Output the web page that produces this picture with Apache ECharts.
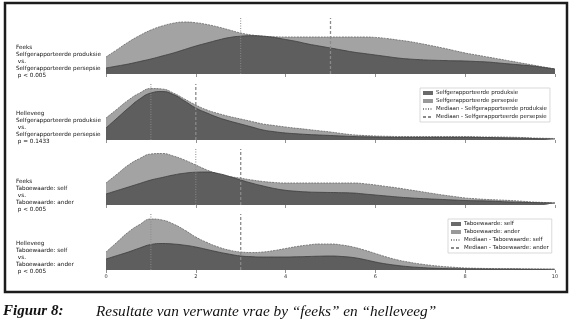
<!DOCTYPE html>
<html>
<head>
<meta charset="utf-8">
<script src="https://cdn.jsdelivr.net/npm/echarts@6/dist/echarts.min.js"></script>
<style>
html,body{margin:0;padding:0;background:#fff;}
#chart{width:572px;height:325px;}
</style>
</head>
<body>
<div id="chart"></div>
<script>
// x grid (score values)
const xs = [0,0.25,0.5,0.75,1,1.25,1.5,1.75,2,2.25,2.5,2.75,3,3.25,3.5,3.75,4,4.25,4.5,4.75,5,
            5.25,5.5,5.75,6,6.25,6.5,6.75,7,7.25,7.5,7.75,8,8.25,8.5,8.75,9,9.25,9.5,9.75,10];
const xTicks = [0,2,4,6,8,10];

// Panel 1: Feeks - produksie vs persepsie (density estimates)
const p1Produksie = [.06,.08,.10,.125,.15,.18,.21,.245,.28,.31,.34,.365,.378,.383,.378,.365,.345,.325,.30,.28,.26,
                     .24,.22,.205,.19,.175,.16,.15,.143,.138,.135,.132,.13,.125,.12,.11,.10,.09,.08,.065,.05];
const p1Persepsie = [.17,.245,.32,.385,.44,.48,.508,.52,.513,.495,.47,.44,.41,.39,.378,.372,.37,.37,.37,.37,.37,
                     .37,.37,.37,.366,.355,.34,.325,.305,.283,.26,.235,.21,.19,.17,.15,.13,.11,.09,.07,.05];
// Panel 2: Helleveeg - produksie vs persepsie
const p2Produksie = [.12,.22,.32,.41,.47,.485,.455,.39,.32,.27,.225,.19,.16,.13,.10,.083,.07,.062,.055,.05,.045,
                     .04,.035,.032,.03,.027,.025,.025,.025,.025,.025,.025,.025,.025,.025,.022,.02,.018,.015,.012,.01];
const p2Persepsie = [.22,.31,.40,.47,.515,.51,.47,.41,.35,.30,.265,.235,.21,.185,.16,.145,.13,.117,.105,.092,.08,
                     .065,.052,.045,.04,.037,.035,.035,.035,.035,.035,.035,.035,.033,.03,.03,.028,.025,.02,.017,.015];
// Panel 3: Feeks - taboewaarde self vs ander
const p3Self  = [.11,.145,.18,.215,.25,.275,.30,.318,.328,.33,.315,.285,.25,.218,.19,.165,.147,.137,.13,.127,.125,
                 .123,.12,.11,.10,.09,.08,.072,.065,.06,.055,.05,.045,.042,.04,.035,.03,.027,.025,.022,.02];
const p3Ander = [.22,.31,.40,.465,.51,.515,.49,.45,.40,.35,.31,.285,.268,.25,.235,.225,.22,.22,.22,.22,.22,
                 .22,.22,.213,.20,.185,.17,.152,.135,.117,.10,.085,.07,.062,.055,.05,.045,.038,.03,.025,.02];
// Panel 4: Helleveeg - taboewaarde self vs ander
const p4Self  = [.11,.145,.18,.22,.255,.265,.26,.248,.23,.205,.18,.158,.14,.133,.13,.13,.13,.132,.135,.138,.14,
                 .135,.125,.105,.08,.06,.045,.033,.025,.019,.015,.013,.012,.011,.01,.01,.01,.009,.008,.0075,.007];
const p4Ander = [.18,.28,.38,.455,.51,.50,.46,.40,.33,.275,.23,.198,.18,.175,.18,.195,.215,.235,.25,.26,.26,
                 .25,.23,.20,.165,.13,.10,.078,.06,.046,.035,.027,.02,.017,.015,.013,.012,.011,.01,.009,.008];

// Medians [first distribution, second distribution]
const medians = [[3,5],[1,2],[2,3],[1,3]];

const panelLabels = [
  'Feeks\nSelfgerapporteerde produksie\n vs.\nSelfgerapporteerde persepsie\n p < 0.005',
  'Helleveeg\nSelfgerapporteerde produksie\n vs.\nSelfgerapporteerde persepsie\n p = 0.1433',
  'Feeks\nTaboewaarde: self\n vs.\nTaboewaarde: ander\n p < 0.005',
  'Helleveeg\nTaboewaarde: self\n vs.\nTaboewaarde: ander\n p < 0.005'
];
const namesA = ['Selfgerapporteerde produksie','Selfgerapporteerde persepsie','Mediaan - Selfgerapporteerde produksie','Mediaan - Selfgerapporteerde persepsie'];
const namesB = ['Taboewaarde: self','Taboewaarde: ander','Mediaan - Taboewaarde: self','Mediaan - Taboewaarde: ander'];
const captionLabel = 'Figuur 8:';
const captionText = 'Resultate van verwante vrae by \u201cfeeks\u201d en \u201chelleveeg\u201d';

const panels = [
  {first:p1Produksie, second:p1Persepsie, names:namesA},
  {first:p2Produksie, second:p2Persepsie, names:namesA},
  {first:p3Self, second:p3Ander, names:namesB},
  {first:p4Self, second:p4Ander, names:namesB}
];

const YMAX = 0.56;
const baselines = [74,140,205,270];
const gridH = 56;
const offsets = [10,1,1,1];
const labelTops = [44.5,110.5,178.5,240.5];

const DARK = '#5e5e5e', LIGHT = '#a3a3a3';
const FONT = 'DejaVu Sans';

const grids = [], xAxes = [], yAxes = [], series = [], titles = [];
const zip = (arr) => arr.map((v,i)=>[xs[i], v]);

panels.forEach((p, i) => {
  grids.push({left:106, right:17, top: baselines[i]-gridH, height: gridH});
  xAxes.push({
    type:'value', gridIndex:i, min:0, max:10, interval:2, offset: offsets[i],
    axisLine:{show:false},
    axisTick:{show:true, length:3, lineStyle:{color:'#777', width:0.8}},
    axisLabel:{show: i===3, fontSize:5, color:'#333', margin:3, fontFamily:FONT},
    splitLine:{show:false}
  });
  yAxes.push({type:'value', gridIndex:i, min:0, max:YMAX, show:false});
  series.push({
    type:'line', name:p.names[1], xAxisIndex:i, yAxisIndex:i, data:zip(p.second),
    smooth:0.5, symbol:'none', showSymbol:false,
    lineStyle:{color:'#666', width:0.8, type:[2,1]},
    itemStyle:{color:'#999'},
    areaStyle:{color:LIGHT, opacity:1}, z:2, animation:false
  });
  series.push({
    type:'line', name:p.names[0], xAxisIndex:i, yAxisIndex:i, data:zip(p.first),
    smooth:0.5, symbol:'none', showSymbol:false,
    lineStyle:{color:'#3d3d3d', width:0.8},
    itemStyle:{color:'#6a6a6a'},
    areaStyle:{color:DARK, opacity:1}, z:3, animation:false
  });
  series.push({
    type:'line', name:p.names[2], xAxisIndex:i, yAxisIndex:i,
    data:[[medians[i][0],0],[medians[i][0],YMAX]],
    symbol:'none', showSymbol:false,
    lineStyle:{color:'#8a8a8a', width:1, type:[1,1.5]},
    itemStyle:{color:'#8a8a8a'}, z:4, animation:false
  });
  series.push({
    type:'line', name:p.names[3], xAxisIndex:i, yAxisIndex:i,
    data:[[medians[i][1],0],[medians[i][1],YMAX]],
    symbol:'none', showSymbol:false,
    lineStyle:{color:'#8a8a8a', width:1.3, type:[3,2]},
    itemStyle:{color:'#8a8a8a'}, z:4, animation:false
  });
  titles.push({
    text: panelLabels[i], left:16, top:labelTops[i], padding:0,
    textStyle:{fontSize:5.7, lineHeight:7, fontWeight:'normal', color:'#111', fontFamily:FONT}
  });
});

titles.push({text:captionLabel, left:3, top:304, padding:0,
  textStyle:{fontSize:15, fontWeight:'bold', fontStyle:'italic', color:'#111', fontFamily:'Liberation Serif'}});
titles.push({text:captionText, left:96, top:304, padding:0,
  textStyle:{fontSize:15.3, fontWeight:'normal', fontStyle:'italic', color:'#111', fontFamily:'Liberation Serif'}});

const legendCommon = {
  orient:'vertical', itemWidth:10, itemHeight:4, itemGap:2,
  padding:[2,3,2,2], borderColor:'#cfcfcf', borderWidth:0.8, backgroundColor:'#fff',
  textStyle:{fontSize:5.5, color:'#222', fontFamily:FONT, lineHeight:6, padding:[0,0,0,-2]},
  selectedMode:false
};
const hideSym = {opacity:0};
const legends = [
  Object.assign({}, legendCommon, {left:420, top:88,
    data:[{name:namesA[0], icon:'rect'},{name:namesA[1], icon:'rect'},
          {name:namesA[2], itemStyle:hideSym},{name:namesA[3], itemStyle:hideSym}]}),
  Object.assign({}, legendCommon, {left:448, top:219,
    data:[{name:namesB[0], icon:'rect'},{name:namesB[1], icon:'rect'},
          {name:namesB[2], itemStyle:hideSym},{name:namesB[3], itemStyle:hideSym}]})
];

const chart = echarts.init(document.getElementById('chart'), null, {renderer:'canvas'});
chart.setOption({
  animation:false,
  backgroundColor:'#fff',
  title: titles,
  legend: legends,
  grid: grids,
  xAxis: xAxes,
  yAxis: yAxes,
  series: series,
  graphic: [{
    type:'rect', shape:{x:5, y:3, width:562, height:289}, silent:true,
    style:{fill:'none', stroke:'#1c1c1c', lineWidth:2.5}, z:100
  }]
});
</script>
</body>
</html>
